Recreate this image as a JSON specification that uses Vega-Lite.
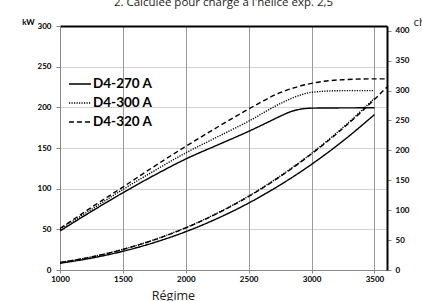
{
  "$schema": "https://vega.github.io/schema/vega-lite/v6.json",
  "width": 327,
  "height": 244,
  "autosize": "none",
  "padding": {"left": 60, "top": 26, "right": 35, "bottom": 31},
  "background": "white",
  "title": {
    "text": "2. Calculée pour charge à l'hélice exp. 2,5",
    "font": "Open Sans",
    "fontSize": 11.5,
    "fontWeight": "normal",
    "color": "#222",
    "anchor": "middle",
    "frame": "group",
    "offset": 8,
    "dy": 9,
    "baseline": "alphabetic"
  },
  "datasets": {
    "curves": [
      {"model": "D4-270 A", "curve": "270 full", "rpm": 1000, "kW": 48},
      {"model": "D4-270 A", "curve": "270 full", "rpm": 1250, "kW": 72},
      {"model": "D4-270 A", "curve": "270 full", "rpm": 1500, "kW": 95},
      {"model": "D4-270 A", "curve": "270 full", "rpm": 1750, "kW": 116.5},
      {"model": "D4-270 A", "curve": "270 full", "rpm": 2000, "kW": 136.5},
      {"model": "D4-270 A", "curve": "270 full", "rpm": 2250, "kW": 153.5},
      {"model": "D4-270 A", "curve": "270 full", "rpm": 2500, "kW": 170.5},
      {"model": "D4-270 A", "curve": "270 full", "rpm": 2650, "kW": 181.5},
      {"model": "D4-270 A", "curve": "270 full", "rpm": 2750, "kW": 189},
      {"model": "D4-270 A", "curve": "270 full", "rpm": 2850, "kW": 195.5},
      {"model": "D4-270 A", "curve": "270 full", "rpm": 2950, "kW": 198.5},
      {"model": "D4-270 A", "curve": "270 full", "rpm": 3000, "kW": 199},
      {"model": "D4-270 A", "curve": "270 full", "rpm": 3250, "kW": 199.3},
      {"model": "D4-270 A", "curve": "270 full", "rpm": 3500, "kW": 199.5},
      {"model": "D4-300 A", "curve": "300 full", "rpm": 1000, "kW": 50},
      {"model": "D4-300 A", "curve": "300 full", "rpm": 1250, "kW": 74.5},
      {"model": "D4-300 A", "curve": "300 full", "rpm": 1500, "kW": 99},
      {"model": "D4-300 A", "curve": "300 full", "rpm": 1750, "kW": 122},
      {"model": "D4-300 A", "curve": "300 full", "rpm": 2000, "kW": 144},
      {"model": "D4-300 A", "curve": "300 full", "rpm": 2250, "kW": 163.5},
      {"model": "D4-300 A", "curve": "300 full", "rpm": 2500, "kW": 183},
      {"model": "D4-300 A", "curve": "300 full", "rpm": 2750, "kW": 204.5},
      {"model": "D4-300 A", "curve": "300 full", "rpm": 2900, "kW": 214.5},
      {"model": "D4-300 A", "curve": "300 full", "rpm": 3000, "kW": 218.5},
      {"model": "D4-300 A", "curve": "300 full", "rpm": 3250, "kW": 220.5},
      {"model": "D4-300 A", "curve": "300 full", "rpm": 3490, "kW": 220.5},
      {"model": "D4-320 A", "curve": "320 full", "rpm": 1000, "kW": 51},
      {"model": "D4-320 A", "curve": "320 full", "rpm": 1250, "kW": 77},
      {"model": "D4-320 A", "curve": "320 full", "rpm": 1500, "kW": 102},
      {"model": "D4-320 A", "curve": "320 full", "rpm": 1750, "kW": 127.5},
      {"model": "D4-320 A", "curve": "320 full", "rpm": 2000, "kW": 152},
      {"model": "D4-320 A", "curve": "320 full", "rpm": 2250, "kW": 175.5},
      {"model": "D4-320 A", "curve": "320 full", "rpm": 2500, "kW": 198},
      {"model": "D4-320 A", "curve": "320 full", "rpm": 2750, "kW": 218},
      {"model": "D4-320 A", "curve": "320 full", "rpm": 3000, "kW": 229.5},
      {"model": "D4-320 A", "curve": "320 full", "rpm": 3250, "kW": 234},
      {"model": "D4-320 A", "curve": "320 full", "rpm": 3500, "kW": 235},
      {"model": "D4-320 A", "curve": "320 full", "rpm": 3600, "kW": 235},
      {"model": "D4-270 A", "curve": "270 prop", "rpm": 1000, "kW": 8.3},
      {"model": "D4-270 A", "curve": "270 prop", "rpm": 1250, "kW": 14.6},
      {"model": "D4-270 A", "curve": "270 prop", "rpm": 1500, "kW": 23},
      {"model": "D4-270 A", "curve": "270 prop", "rpm": 1750, "kW": 33.8},
      {"model": "D4-270 A", "curve": "270 prop", "rpm": 2000, "kW": 47.1},
      {"model": "D4-270 A", "curve": "270 prop", "rpm": 2250, "kW": 63.3},
      {"model": "D4-270 A", "curve": "270 prop", "rpm": 2500, "kW": 82.3},
      {"model": "D4-270 A", "curve": "270 prop", "rpm": 2750, "kW": 104.5},
      {"model": "D4-270 A", "curve": "270 prop", "rpm": 3000, "kW": 129.9},
      {"model": "D4-270 A", "curve": "270 prop", "rpm": 3250, "kW": 158.7},
      {"model": "D4-270 A", "curve": "270 prop", "rpm": 3500, "kW": 191},
      {"model": "D4-300 A", "curve": "300 prop", "rpm": 1000, "kW": 9.2},
      {"model": "D4-300 A", "curve": "300 prop", "rpm": 1250, "kW": 16.1},
      {"model": "D4-300 A", "curve": "300 prop", "rpm": 1500, "kW": 25.4},
      {"model": "D4-300 A", "curve": "300 prop", "rpm": 1750, "kW": 37.3},
      {"model": "D4-300 A", "curve": "300 prop", "rpm": 2000, "kW": 52.1},
      {"model": "D4-300 A", "curve": "300 prop", "rpm": 2250, "kW": 69.9},
      {"model": "D4-300 A", "curve": "300 prop", "rpm": 2500, "kW": 90.9},
      {"model": "D4-300 A", "curve": "300 prop", "rpm": 2750, "kW": 115.5},
      {"model": "D4-300 A", "curve": "300 prop", "rpm": 3000, "kW": 143.5},
      {"model": "D4-300 A", "curve": "300 prop", "rpm": 3250, "kW": 175.3},
      {"model": "D4-300 A", "curve": "300 prop", "rpm": 3500, "kW": 211},
      {"model": "D4-320 A", "curve": "320 prop", "rpm": 1000, "kW": 9.2},
      {"model": "D4-320 A", "curve": "320 prop", "rpm": 1250, "kW": 16},
      {"model": "D4-320 A", "curve": "320 prop", "rpm": 1500, "kW": 25.2},
      {"model": "D4-320 A", "curve": "320 prop", "rpm": 1750, "kW": 37.1},
      {"model": "D4-320 A", "curve": "320 prop", "rpm": 2000, "kW": 51.8},
      {"model": "D4-320 A", "curve": "320 prop", "rpm": 2250, "kW": 69.5},
      {"model": "D4-320 A", "curve": "320 prop", "rpm": 2500, "kW": 90.4},
      {"model": "D4-320 A", "curve": "320 prop", "rpm": 2750, "kW": 114.8},
      {"model": "D4-320 A", "curve": "320 prop", "rpm": 3000, "kW": 142.7},
      {"model": "D4-320 A", "curve": "320 prop", "rpm": 3250, "kW": 174.2},
      {"model": "D4-320 A", "curve": "320 prop", "rpm": 3500, "kW": 209.7},
      {"model": "D4-320 A", "curve": "320 prop", "rpm": 3600, "kW": 225}
    ],
    "chAxis": [{"ch": 0}]
  },
  "layer": [
    {
      "data": {"name": "curves"},
      "mark": {"type": "line", "strokeWidth": 1.4, "color": "black", "interpolate": "monotone", "clip": true},
      "encoding": {
        "x": {
          "field": "rpm", "type": "quantitative",
          "scale": {"domain": [1000, 3600], "nice": false, "zero": false},
          "axis": {
            "values": [1000, 1500, 2000, 2500, 3000, 3500],
            "format": "d",
            "labelFlush": false,
            "title": "Régime",
            "titleX": 113, "titleY": 19,
            "titleAlign": "center", "titleBaseline": "top",
            "titleFont": "Open Sans", "titleFontSize": 12.5, "titleFontWeight": "normal", "titleColor": "#222",
            "labelFont": "Lato", "labelFontSize": 8, "labelFontWeight": "bold", "labelColor": "#000",
            "tickSize": 3, "labelPadding": 2,
            "grid": true, "gridColor": "#9a9a9a", "gridWidth": 1,
            "domainColor": "#888", "tickColor": "#888"
          }
        },
        "y": {
          "field": "kW", "type": "quantitative",
          "scale": {"domain": [0, 300], "nice": false},
          "axis": {
            "orient": "left",
            "values": [0, 50, 100, 150, 200, 250, 300],
            "title": "kW", "titleAngle": 0, "titleX": -32, "titleY": -4,
            "titleAlign": "center", "titleBaseline": "middle",
            "titleFont": "Lato", "titleFontSize": 8, "titleFontWeight": "bold", "titleColor": "#000",
            "labelFont": "Lato", "labelFontSize": 8, "labelFontWeight": "bold", "labelColor": "#000",
            "tickSize": 4, "tickColor": "#888", "domainColor": "#888", "labelPadding": 5,
            "grid": true,
            "gridColor": {"condition": {"test": "datum.value === 300", "value": "#000"}, "value": "#a6a6a6"},
            "gridWidth": {"condition": {"test": "datum.value === 300", "value": 2}, "value": 1},
            "gridDash": {"condition": {"test": "datum.value === 300", "value": []}, "value": [1, 1]}
          }
        },
        "strokeDash": {
          "field": "model", "type": "nominal",
          "scale": {"domain": ["D4-270 A", "D4-300 A", "D4-320 A"], "range": [[1, 0], [1.2, 1.3], [5, 3]]},
          "legend": {
            "orient": "none", "legendX": 8, "legendY": 46,
            "title": null, "padding": 0,
            "symbolType": "stroke", "symbolSize": 484, "symbolStrokeWidth": 1.4, "symbolStrokeColor": "#000",
            "labelFont": "Lato", "labelFontSize": 13.5, "labelFontWeight": "bold", "labelColor": "#000",
            "labelOffset": 1, "rowPadding": 0
          }
        },
        "detail": {"field": "curve"}
      }
    },
    {
      "data": {"name": "chAxis"},
      "mark": {"type": "point", "opacity": 0},
      "encoding": {
        "y": {
          "field": "ch", "type": "quantitative",
          "scale": {"domain": [0, 408], "nice": false},
          "axis": {
            "orient": "right",
            "values": [0, 50, 100, 150, 200, 250, 300, 350, 400],
            "title": "ch", "titleAngle": 0, "titleX": 26, "titleY": -4,
            "titleAlign": "left", "titleBaseline": "middle",
            "titleFont": "Open Sans", "titleFontSize": 11.5, "titleFontWeight": "normal", "titleColor": "#222",
            "labelFont": "Lato", "labelFontSize": 8, "labelFontWeight": "bold", "labelColor": "#000",
            "tickSize": 4, "tickColor": "#888", "labelPadding": 4,
            "domainColor": "#000", "domainWidth": 2, "grid": false
          }
        }
      }
    }
  ],
  "resolve": {"scale": {"y": "independent"}},
  "config": {"view": {"stroke": null}}
}
